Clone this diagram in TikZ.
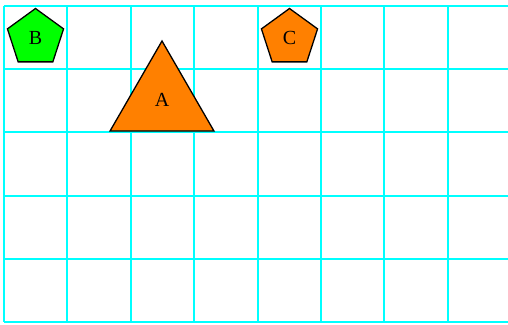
\documentclass[tikz,border=0pt]{standalone}
\usepackage{fontspec}
\setmainfont{Liberation Serif}
\usetikzlibrary{shapes.geometric}
\definecolor{gridcyan}{HTML}{00FFFF}
\definecolor{shapeorange}{HTML}{FF8000}
\definecolor{shapegreen}{HTML}{00FF00}
\begin{document}
\begin{tikzpicture}[x=1pt,y=-1pt,
  gridline/.style={draw=gridcyan,line width=2pt},
  lbl/.style={font=\fontsize{20}{24}\selectfont},
  pent/.style={regular polygon,regular polygon sides=5,draw=black,line width=1.3pt,minimum size=59pt,inner sep=0pt,lbl},
  tri/.style={regular polygon,regular polygon sides=3,draw=black,line width=1.3pt,minimum size=120pt,inner sep=0pt}]
\useasboundingbox (0,0) rectangle (508,324);
\begin{scope}
\clip (0,0) rectangle (508,324);
\foreach \i in {0,...,8} {
  \draw[gridline] ({4+63.4*\i},6) -- ({4+63.4*\i},322);
}
\foreach \j in {0,...,5} {
  \draw[gridline] (4,{6+63.2*\j}) -- (520,{6+63.2*\j});
}
\end{scope}
\node[pent,fill=shapegreen] (B) at (35.5,38) {B};
\node[pent,fill=shapeorange] (C) at (289.5,38) {C};
\node[tri,fill=shapeorange] (A) at (162,101) {};
\node[lbl] (Alabel) at (162,100) {A};
\end{tikzpicture}
\end{document}
